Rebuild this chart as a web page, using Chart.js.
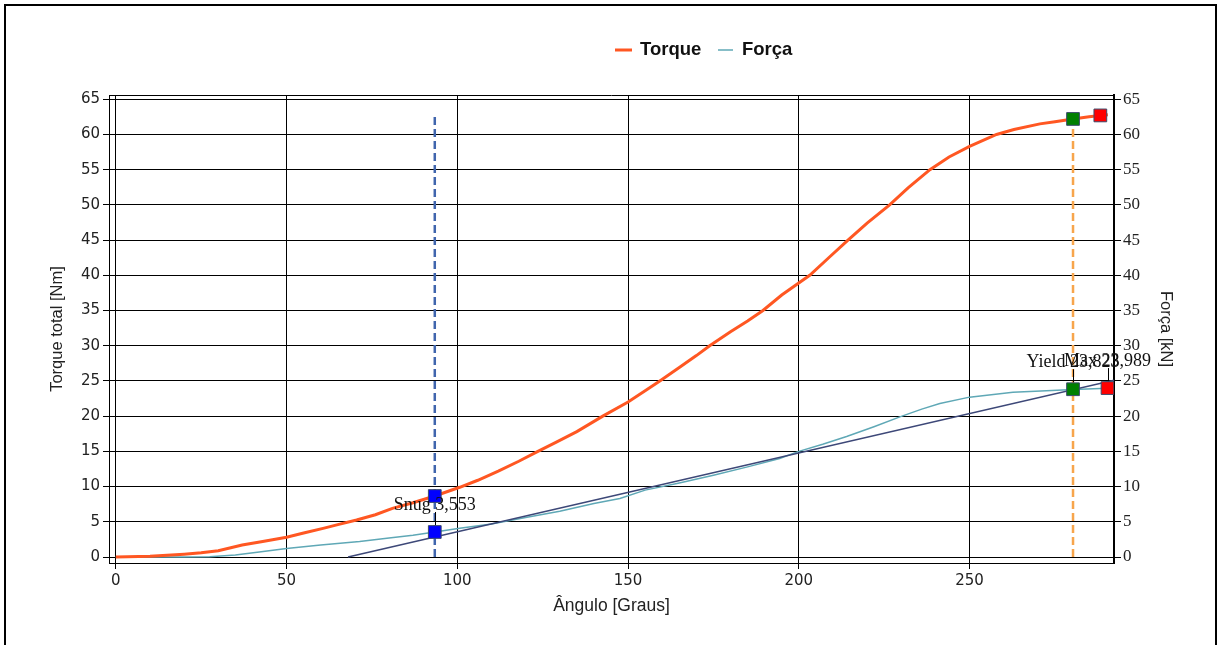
<!DOCTYPE html>
<html>
<head>
<meta charset="utf-8">
<script src="https://cdn.jsdelivr.net/npm/chart.js@4.4.1/dist/chart.umd.min.js"></script>
<style>
  body { margin: 0; background: #fff; }
  #wrap { position: relative; width: 1219px; height: 645px; }
</style>
</head>
<body>
<div id="wrap"><canvas id="chart"></canvas></div>
<script>
// torque curve (angle in degrees, torque in Nm)
const torqueAngle = [0, 10, 20, 25, 30, 37, 43, 50, 55, 61, 65, 70.5, 76, 81, 87, 93.4, 100.7, 106, 112, 118, 123.6, 129, 135, 142.6, 150, 155, 159.3, 165, 170, 173.9, 180, 185, 189.5, 195, 203.2, 209, 214.4, 220, 226.6, 232, 238.4, 244, 250, 257.9, 263, 270.6, 275, 280.3, 285, 288.3, 290.5];
const torqueValues = [0, 0.1, 0.4, 0.6, 0.9, 1.7, 2.2, 2.8, 3.4, 4.1, 4.6, 5.25, 6.0, 6.9, 7.7, 8.66, 9.9, 10.9, 12.2, 13.6, 15, 16.3, 17.8, 20, 22.0, 23.6, 25, 26.9, 28.6, 30, 32.0, 33.5, 35, 37.2, 40, 42.6, 45, 47.4, 50, 52.4, 55, 56.8, 58.3, 60, 60.7, 61.5, 61.8, 62.2, 62.5, 62.7, 62.8];

// clamp force curve (kN)
const forcaAngle = [0, 10, 20, 27.5, 35, 42, 50, 60, 71.4, 80, 87, 93.4, 100.7, 110, 120, 130, 140, 147.6, 155, 165, 175, 185, 194.4, 200, 207, 214, 222, 229.6, 236, 241.3, 250, 262.7, 272.5, 280.3, 290.4];
const forcaValues = [0, 0, 0, 0.02, 0.3, 0.7, 1.2, 1.7, 2.2, 2.7, 3.1, 3.55, 4.07, 4.7, 5.6, 6.5, 7.6, 8.3, 9.5, 10.5, 11.6, 12.8, 14.0, 15, 16, 17.1, 18.5, 19.9, 21.0, 21.8, 22.7, 23.4, 23.6, 23.8, 23.95];

// straight reference line on the force axis
const refLineAngle = [68, 292.3];
const refLineValues = [0, 25.1];

// Snug / Yield / Max points
const markerNames = ["Snug", "Yield", "Max"];
const markerAngleTorque = [93.4, 280.3, 288.3];
const markerTorque = [8.66, 62.2, 62.7];
const markerAngleForca = [93.4, 280.3, 290.4];
const markerForca = [3.553, 23.823, 23.989];

const xTicks = [0, 50, 100, 150, 200, 250];
const yTicks = [0, 5, 10, 15, 20, 25, 30, 35, 40, 45, 50, 55, 60, 65];

const legendLabels = ["Torque", "Força"];

const markerColors = ["#0000ff", "#008000", "#ff0000"];
const orange = "#ff5722";
const teal = "#5fa8b6";

function pts(xs, ys) {
  return xs.map((x, i) => ({ x: x, y: ys[i] }));
}

// vertical dashed lines at snug and yield angle
const snugLine = [{ x: markerAngleTorque[0], y: 0 }, { x: markerAngleTorque[0], y: markerTorque[2] }];
const yieldLine = [{ x: markerAngleTorque[1], y: 0 }, { x: markerAngleTorque[1], y: markerTorque[1] }];

const frameAndLegend = {
  id: "frameAndLegend",
  beforeDraw(chart) {
    const ctx = chart.ctx;
    ctx.save();
    ctx.fillStyle = "#fff";
    ctx.fillRect(0, 0, chart.width, chart.height);
    ctx.strokeStyle = "#000";
    ctx.lineWidth = 2;
    ctx.strokeRect(5, 5, 1211, 660);
    ctx.restore();
  },
  beforeDatasetsDraw(chart) {
    const a = chart.chartArea;
    const ctx = chart.ctx;
    ctx.save();
    ctx.strokeStyle = "#000";
    ctx.lineWidth = 1;
    ctx.beginPath();
    ctx.moveTo(a.left, a.top + 0.5);
    ctx.lineTo(a.right, a.top + 0.5);
    ctx.stroke();
    ctx.restore();
  },
  afterDraw(chart) {
    const ctx = chart.ctx;
    ctx.save();
    ctx.font = "bold 18.5px 'Liberation Sans', Arial, sans-serif";
    ctx.textBaseline = "middle";
    ctx.fillStyle = "#111";
    const y = 50;
    // Torque
    ctx.strokeStyle = orange;
    ctx.lineWidth = 3;
    ctx.beginPath(); ctx.moveTo(615, y); ctx.lineTo(632, y); ctx.stroke();
    ctx.fillText(legendLabels[0], 640, y);
    // Força
    ctx.strokeStyle = teal;
    ctx.lineWidth = 1.5;
    ctx.beginPath(); ctx.moveTo(718, y); ctx.lineTo(733, y); ctx.stroke();
    ctx.fillText(legendLabels[1], 742, y);
    ctx.restore();
  }
};

const markerLabels = {
  id: "markerLabels",
  afterDatasetsDraw(chart) {
    const ctx = chart.ctx;
    const xs = chart.scales.x, ys = chart.scales.y2;
    ctx.save();
    ctx.font = "18px 'Liberation Serif', 'Times New Roman', serif";
    ctx.textAlign = "center";
    ctx.textBaseline = "alphabetic";
    ctx.fillStyle = "#111";
    ctx.strokeStyle = "#000";
    ctx.lineWidth = 1;
    markerNames.forEach((name, i) => {
      const px = xs.getPixelForValue(markerAngleForca[i]);
      const py = ys.getPixelForValue(markerForca[i]);
      ctx.beginPath();
      ctx.moveTo(Math.round(px) + 0.5, py - 20);
      ctx.lineTo(Math.round(px) + 0.5, py - 7);
      ctx.stroke();
      ctx.fillText(name + " " + markerForca[i].toFixed(3).replace(".", ","), px, py - 22);
    });
    ctx.restore();
  }
};

const tickFont = { family: "'DejaVu Sans', Tahoma, sans-serif", size: 15 };

new Chart(document.getElementById("chart"), {
  type: "scatter",
  data: {
    datasets: [
      {
        label: "markersTorque",
        data: pts(markerAngleTorque, markerTorque),
        yAxisID: "y",
        pointStyle: "rect",
        pointRadius: 9,
        backgroundColor: markerColors,
        borderColor: "#3b4a6b",
        borderWidth: 1,
        order: 0
      },
      {
        label: "markersForca",
        data: pts(markerAngleForca, markerForca),
        yAxisID: "y2",
        pointStyle: "rect",
        pointRadius: 9,
        backgroundColor: markerColors,
        borderColor: "#3b4a6b",
        borderWidth: 1,
        order: 1
      },
      {
        label: "Torque",
        data: pts(torqueAngle, torqueValues),
        yAxisID: "y",
        showLine: true,
        borderColor: orange,
        borderWidth: 3,
        pointRadius: 0,
        tension: 0,
        order: 2
      },
      {
        label: "Força",
        data: pts(forcaAngle, forcaValues),
        yAxisID: "y2",
        showLine: true,
        borderColor: teal,
        borderWidth: 1.5,
        pointRadius: 0,
        tension: 0,
        order: 4
      },
      {
        label: "ref",
        data: pts(refLineAngle, refLineValues),
        yAxisID: "y2",
        showLine: true,
        borderColor: "#3d4878",
        borderWidth: 1.5,
        pointRadius: 0,
        order: 3
      },
      {
        label: "snugLine",
        data: snugLine,
        yAxisID: "y",
        showLine: true,
        borderColor: "#4065ad",
        borderWidth: 2.5,
        borderDash: [8, 4],
        pointRadius: 0,
        order: 5
      },
      {
        label: "yieldLine",
        data: yieldLine,
        yAxisID: "y",
        showLine: true,
        borderColor: "#f7a54c",
        borderWidth: 2.5,
        borderDash: [8, 4],
        pointRadius: 0,
        order: 5
      }
    ]
  },
  options: {
    responsive: true,
    maintainAspectRatio: false,
    animation: false,
    layout: { padding: { top: 95, left: 0, right: 0, bottom: 0 } },
    plugins: {
      legend: { display: false },
      tooltip: { enabled: false }
    },
    scales: {
      x: {
        type: "linear",
        min: -2,
        max: 292.3,
        afterFit(s) { s.height = 82; },
        afterBuildTicks(s) { s.ticks = xTicks.map(v => ({ value: v })); },
        ticks: { font: tickFont, color: "#222", padding: 3, maxRotation: 0 },
        grid: { color: "#000", lineWidth: 1, tickLength: 6 },
        border: { color: "#000", width: 1 },
        title: {
          display: true,
          text: "Ângulo [Graus]",
          font: { family: "'Liberation Sans', Arial, sans-serif", size: 17.5 },
          color: "#222",
          padding: { top: 0, bottom: 28 }
        }
      },
      y: {
        type: "linear",
        position: "left",
        min: -0.85,
        max: 65.6,
        afterFit(s) { s.width = 109; },
        afterBuildTicks(s) { s.ticks = yTicks.map(v => ({ value: v })); },
        ticks: { font: tickFont, color: "#222", padding: 3 },
        grid: { color: "#000", lineWidth: 1, tickLength: 6 },
        border: { color: "#000", width: 1 },
        title: {
          display: true,
          text: "Torque total [Nm]",
          font: { family: "'Liberation Sans', Arial, sans-serif", size: 16.5 },
          color: "#222",
          padding: { top: 48, bottom: 0 }
        }
      },
      y2: {
        type: "linear",
        position: "right",
        min: -0.85,
        max: 65.6,
        afterFit(s) { s.width = 105; },
        afterBuildTicks(s) { s.ticks = yTicks.map(v => ({ value: v })); },
        ticks: { font: { family: "'Liberation Serif', 'Times New Roman', serif", size: 17 }, color: "#222", padding: 2 },
        grid: { color: "#000", lineWidth: 1, tickLength: 7, drawOnChartArea: false },
        border: { color: "#000", width: 2 },
        title: {
          display: true,
          text: "Força [kN]",
          font: { family: "'Liberation Sans', Arial, sans-serif", size: 16.5 },
          color: "#222",
          padding: { top: 44, bottom: 0 }
        }
      }
    }
  },
  plugins: [frameAndLegend, markerLabels]
});
</script>
</body>
</html>
